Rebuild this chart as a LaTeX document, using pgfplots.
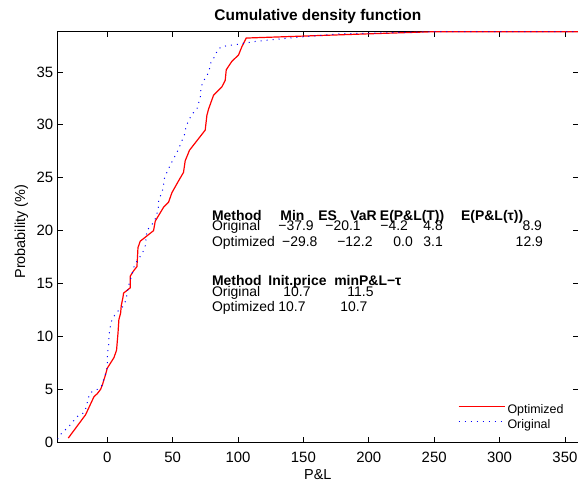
\documentclass[border=0pt]{standalone}
\usepackage{fontspec}
\setmainfont{Liberation Sans}
\usepackage{pgfplots}
\pgfplotsset{compat=1.18}
\begin{document}
\begin{tikzpicture}
\begin{axis}[
  name=ax,
  scale only axis,
  width=520.3bp, height=410.6bp,
  xmin=-37.9, xmax=360, ymin=0, ymax=38.8,
  xtick={0,50,...,350}, ytick={0,5,...,35},
  tick align=inside,
  major tick length=5bp,
  axis line style={line width=0.9bp, black},
  every tick/.style={black, line width=0.8bp},
  /pgf/number format/assume math mode=true,
  tick label style={font=\fontsize{15}{15}\selectfont},
  xticklabel style={anchor=base, yshift=-20bp},
  yticklabel style={anchor=east, xshift=-1bp},
  title={Cumulative density function},
  title style={at={(0.5,1)}, anchor=base, yshift=5.7bp, font=\bfseries\fontsize{15.5}{17}\selectfont},
  xlabel={P\&L},
  xlabel style={at={(axis description cs:0.5,0)}, anchor=base, yshift=-37bp, font=\fontsize{14.5}{16}\selectfont},
  ylabel={Probability (\%)},
  ylabel style={at={(axis description cs:-0.07,0.513)}, anchor=center, font=\fontsize{14.5}{16}\selectfont},
  legend style={draw=none, fill=none, at={(axis description cs:0.769,0.098)}, anchor=north west,
    inner sep=0pt, font=\fontsize{12.5}{15}\selectfont, row sep=0pt, nodes={inner sep=2.3bp}},
  legend cell align=left,
  legend image code/.code={\draw[#1] (0bp,0.3em) -- (46bp,0.3em);},
]
\addplot[red, line width=1.2bp] coordinates {
(-29.8,0.4) (-16.6,2.6) (-10.2,4.3) (-7.6,4.6) (-5.1,5.0) (-3.8,5.4) (-1.3,6.4)
(0,7.0) (5.1,8.0) (7.1,8.7) (8.2,10.3) (8.9,11.6) (10.2,12.2) (10.7,12.9) (12.0,13.7)
(12.5,14.1) (17.6,14.6) (17.6,15.7) (20.1,16.2) (22.7,16.6) (23.5,18.4) (25.2,19.0)
(30.3,19.5) (35.4,20.0) (36.7,20.9) (43.0,22.2) (46.9,22.7) (49.5,23.6) (54.5,24.7)
(58.3,25.5) (59.6,26.6) (62.9,27.6) (74.9,29.5) (76.2,30.9) (77.5,31.5) (81.3,32.8)
(87.7,33.6) (90.2,34.2) (91.0,35.2) (95.3,36.0) (100.4,36.6) (103,37.4) (106.3,38.2)
(200,38.6) (250,38.8) (360,38.8)
};
\addlegendentry{Optimized}
\addplot[blue, line width=1bp, dash pattern=on 1bp off 5bp] coordinates {
(-37.9,0.3) (-36.9,0.6) (-33.6,1.0) (-29.3,1.5) (-26,2.0) (-22.4,2.5) (-17.8,2.8)
(-15.8,3.4) (-14.8,4.1) (-12.8,4.7) (-7.6,5.0) (-3.8,5.4) (-2.5,6.1) (-0.5,6.7)
(0,7.3) (0,8.1) (0.5,8.7) (1.3,9.4) (1.3,10.1) (2.0,10.7) (3.1,11.4) (5.6,12.0)
(8.9,12.5) (12.7,12.9) (14.5,13.6) (16.3,14.8) (18.3,15.6) (20.9,16.8) (23.9,17.3)
(27.3,18.0) (29,18.5) (30.3,20.0) (36.2,20.9) (38,21.6) (39.2,22.3) (39.2,22.9)
(41.8,23.6) (43.0,24.2) (43.6,24.9) (45.6,25.5) (48.2,26.2) (52,27.1) (54.5,27.7)
(57.1,28.5) (59.1,29.1) (60.2,29.8) (62.2,30.4) (64.8,31.0) (68.6,31.5) (71.1,32.6)
(71.6,33.4) (73.2,34.1) (76.2,34.6) (78.2,35.3) (79.5,36.0) (82.6,36.5) (84.3,37.1)
(87.7,37.4) (93.5,37.5) (99.2,37.6) (109.3,37.8) (114.4,37.9) (147.6,38.3) (178,38.6)
(250,38.8) (360,38.8)
};
\addlegendentry{Original}
% text table
\begin{scope}[every node/.style={inner sep=0pt, anchor=base west, font=\fontsize{14}{16}\selectfont}]
\node[font=\bfseries\fontsize{14}{16}\selectfont] at (axis cs:80,21.0) {Method};
\node[font=\bfseries\fontsize{14}{16}\selectfont] at (axis cs:132.3,21.0) {Min};
\node[font=\bfseries\fontsize{14}{16}\selectfont] at (axis cs:161.3,21.0) {ES};
\node[font=\bfseries\fontsize{14}{16}\selectfont] at (axis cs:185.8,21.0) {VaR};
\node[font=\bfseries\fontsize{14}{16}\selectfont] at (axis cs:208.4,21.0) {E(P\&L(T))};
\node[font=\bfseries\fontsize{14}{16}\selectfont] at (axis cs:270.5,21.0) {E(P\&L(τ))};
\node at (axis cs:80,19.98) {Original};
\node at (axis cs:130.7,19.98) {−37.9};
\node at (axis cs:166.7,19.98) {−20.1};
\node at (axis cs:208.7,19.98) {−4.2};
\node at (axis cs:241.6,19.98) {4.8};
\node[anchor=base east] at (axis cs:332.6,19.98) {8.9};
\node at (axis cs:80,18.51) {Optimized};
\node at (axis cs:133.6,18.51) {−29.8};
\node at (axis cs:175.8,18.51) {−12.2};
\node at (axis cs:218.7,18.51) {0.0};
\node at (axis cs:241.6,18.51) {3.1};
\node[anchor=base east] at (axis cs:333.3,18.51) {12.9};
\node[font=\bfseries\fontsize{14}{16}\selectfont] at (axis cs:80,14.82) {Method};
\node[font=\bfseries\fontsize{14}{16}\selectfont] at (axis cs:123.1,14.82) {Init.price};
\node[font=\bfseries\fontsize{14}{16}\selectfont] at (axis cs:173.5,14.82) {minP\&L−τ};
\node at (axis cs:80,13.82) {Original};
\node at (axis cs:134.6,13.82) {10.7};
\node at (axis cs:183.5,13.82) {11.5};
\node at (axis cs:80,12.38) {Optimized};
\node at (axis cs:130.7,12.38) {10.7};
\node at (axis cs:178.1,12.38) {10.7};
\end{scope}
\end{axis}
\pgfresetboundingbox
\path[use as bounding box] ([xshift=-57.7bp,yshift=-43.7bp]ax.south west) rectangle ([yshift=31.7bp]ax.north east);
\end{tikzpicture}
\end{document}
